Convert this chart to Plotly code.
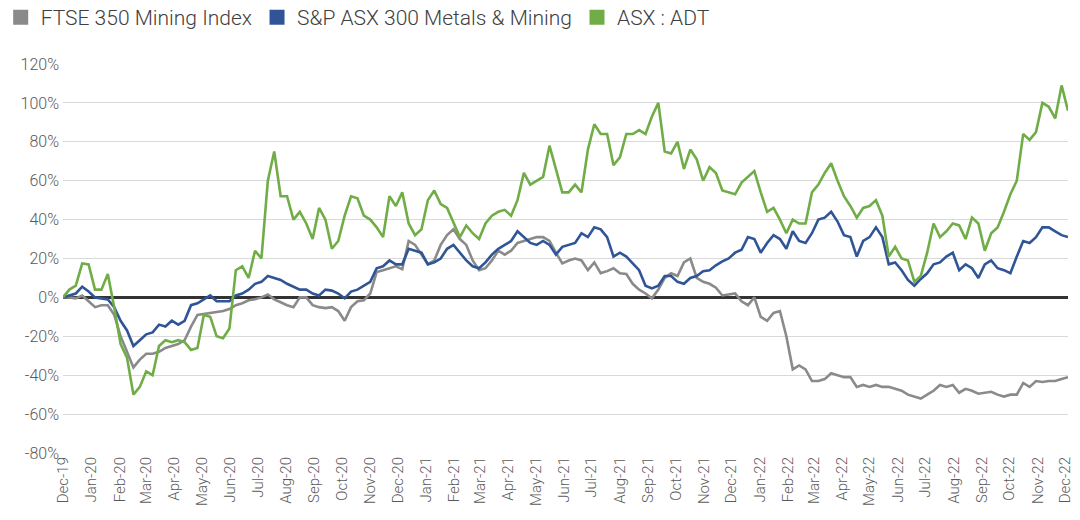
import pandas as pd
import plotly.graph_objects as go

# Weekly readings (% change since Dec-19), starting 2019-12-01
ftse_350_mining = [
    0, 0, -0.5, 1, -2, -5, -4, -4, -9, -20,
    -28, -36, -32, -29, -29, -28, -26, -25, -24, -22,
    -15, -9, -8.5, -8, -7.5, -7, -6, -4, -3, -1.5,
    -1, 0, 1.5, -1, -2.5, -4, -5, 0, 0, -4,
    -5, -5.5, -5, -7, -12, -5, -2, -1.5, 2, 13,
    14, 15, 16, 14.5, 29, 27, 22, 17, 19, 27,
    32, 35, 30, 27, 19, 14, 15, 19, 24, 22,
    24, 28, 29, 30, 31, 31, 29, 23, 17.5, 19,
    20, 19, 14, 18, 12.5, 13.5, 15, 12.4, 12, 7,
    4, 2, -0.5, 4, 10, 12.4, 11, 18, 20, 10,
    8, 7, 5, 1, 1.5, 2, -2, -4, 0, -10,
    -12, -8, -7, -20, -37, -35, -37, -43, -43, -42,
    -39, -40, -41, -41, -46, -45, -46, -45, -46, -46,
    -47, -48, -50, -51, -52, -50, -48, -45, -46, -45,
    -49, -47, -48, -49.5, -49, -48.5, -50, -51, -50, -50,
    -44, -46, -43, -43.5, -43, -43, -42, -41,
]

sp_asx_300_metals_mining = [
    0, 1, 2, 5.5, 3, 0, -0.5, -1, -5, -12,
    -17, -25, -22, -19, -18, -14, -15, -12, -14, -12,
    -4, -3, -1, 1, -2, -2, -2, 1, 2, 4,
    7, 8, 11, 10, 9, 7, 5.5, 4, 4, 2,
    1, 4, 3.5, 2, -0.5, 3, 4, 6, 8, 15,
    16, 19, 17, 17, 25, 24, 23, 17, 18, 20,
    25, 27, 23, 19, 16, 15, 18, 22, 25, 27,
    29, 34, 31, 28, 27, 29, 27, 22, 26, 27,
    28, 33, 31, 36, 35, 31, 21, 23, 21, 17.5,
    14, 6, 4.6, 6, 11, 11, 8, 7, 10, 11,
    13.5, 14, 16.5, 18.5, 20, 23, 24.5, 31, 30, 23,
    28, 32, 30, 25, 34, 29, 28, 33, 40, 41,
    44, 39, 32, 31, 21, 29, 31, 36, 31, 17,
    18, 14, 9, 6, 9.5, 12.4, 17, 18, 21, 23,
    14, 17, 15, 10, 17, 19, 15, 14, 12.4, 21,
    29, 28, 31, 36, 36, 34, 32, 31,
]

asx_adt = [
    0, 4, 6, 17.5, 17, 4, 4, 12, -5, -24,
    -31, -50, -46, -38, -40, -25, -22, -23, -22, -23,
    -27, -26, -9, -10, -20, -21, -16, 14, 16, 10,
    24, 20, 60, 75, 52, 52, 40, 44, 38, 30,
    46, 40, 25, 29, 42, 52, 51, 42, 40, 36,
    31, 52, 47, 54, 38, 32, 35, 50, 55, 48,
    46, 38, 31, 37, 33, 30, 38, 42, 44, 45,
    42, 50, 64, 58, 60, 62, 78, 66, 54, 54,
    58, 54, 76, 89, 84, 84, 68, 72, 84, 84,
    86, 84, 93, 100, 75, 74, 80, 66, 76, 71,
    60, 67, 64, 55, 54, 53, 59, 62, 65, 54,
    44, 46, 40, 33, 40, 38, 38, 54, 58, 64,
    69, 60, 52, 47, 41, 46, 47, 50, 42, 21,
    26, 20, 19, 8, 11, 23, 38, 31, 34, 38,
    37, 30, 41, 38, 24, 33, 36, 44, 53, 60,
    84, 81, 85, 100, 98, 92, 109, 96,
]

series_names = ["FTSE 350 Mining Index", "S&P ASX 300 Metals & Mining", "ASX : ADT"]
series_colors = ["#8a8a8a", "#2f5597", "#70ad47"]
y_tick_values = [-80, -60, -40, -20, 0, 20, 40, 60, 80, 100, 120]

dates = pd.date_range("2019-12-01", periods=len(asx_adt), freq="7D")

fig = go.Figure()
for name, vals, col in zip(series_names,
                           [ftse_350_mining, sp_asx_300_metals_mining, asx_adt],
                           series_colors):
    d = dates[:len(vals)]
    fig.add_trace(go.Scatter(x=d, y=vals, mode="lines", name=name,
                             line=dict(color=col, width=2.6),
                             showlegend=False, hoverinfo="skip"))
    fig.add_trace(go.Scatter(x=[None], y=[None], mode="markers", name=name,
                             marker=dict(symbol="square", size=15, color=col),
                             showlegend=True))

fig.update_layout(
    width=1080, height=520,
    margin=dict(l=63, r=12, t=64, b=67, autoexpand=False),
    paper_bgcolor="white", plot_bgcolor="white",
    font=dict(family="Roboto, Liberation Sans, Arial", color="#595959", weight=300),
    legend=dict(orientation="h", xref="paper", yref="paper",
                x=-0.062, y=1.172, xanchor="left", yanchor="top",
                font=dict(size=21, color="#404040", weight=300),
                tracegroupgap=0,
                bgcolor="rgba(0,0,0,0)"),
    showlegend=True,
)
fig.update_xaxes(
    type="date",
    range=[dates[0], dates[-1]],
    tick0="2019-12-01", dtick="M1", tickformat="%b-%y",
    tickangle=-90, tickfont=dict(size=15, color="#595959", weight=300),
    showgrid=False, zeroline=False, showline=False, ticks="",
    automargin=False,
)
fig.update_yaxes(
    range=[-80, 120], tickvals=y_tick_values,
    ticktext=[f"{v}%" for v in y_tick_values],
    tickfont=dict(size=16, color="#595959", weight=300),
    ticklabelstandoff=3,
    showgrid=True, gridcolor="#d9d9d9", gridwidth=1.3,
    zeroline=True, zerolinecolor="#333333", zerolinewidth=3,
    showline=False, ticks="", automargin=False,
)

fig.write_html("out.html", config={"displayModeBar": False},
               post_script="document.body.style.margin='0';")
